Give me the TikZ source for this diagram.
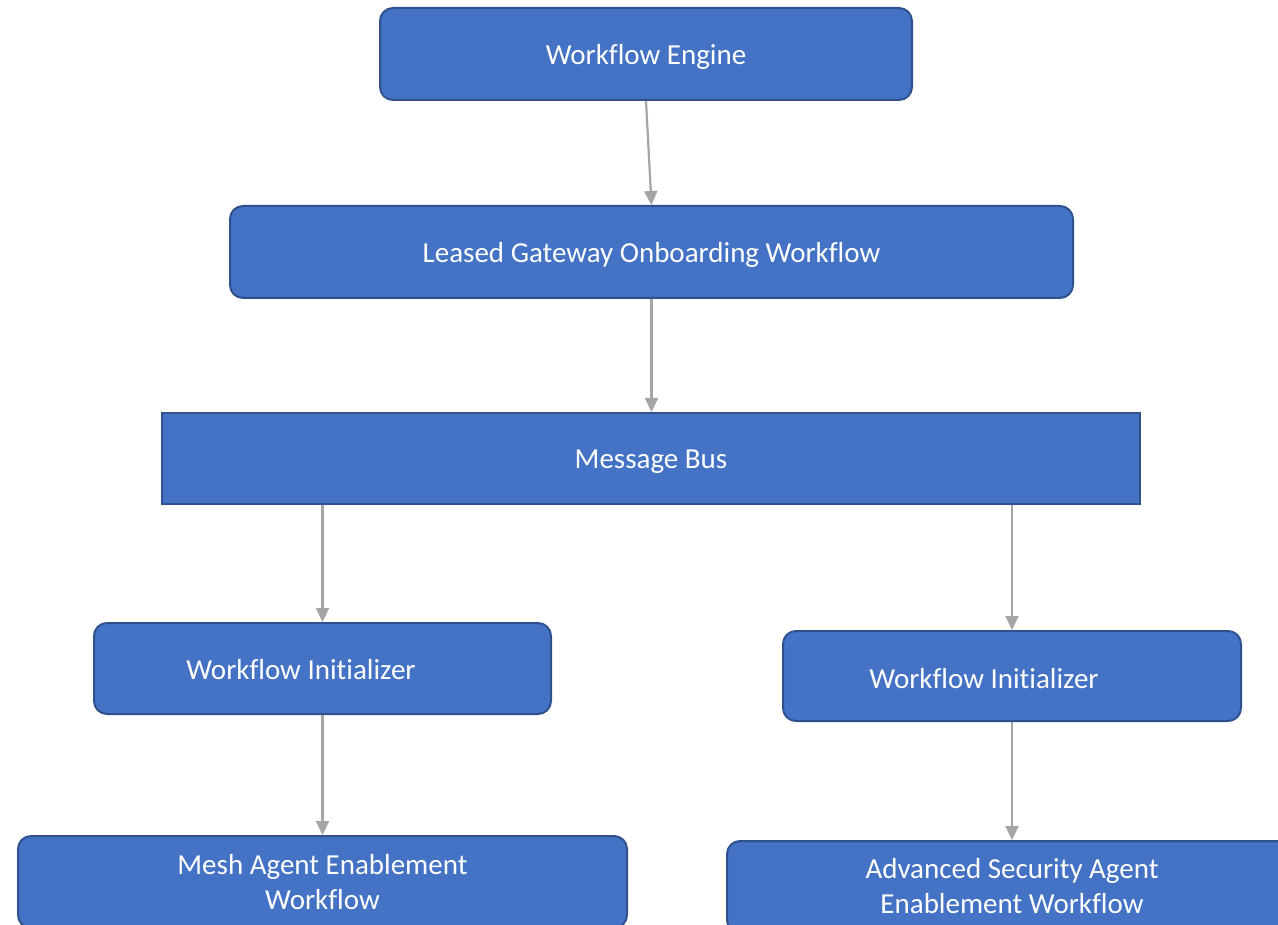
\documentclass[tikz,border=0pt]{standalone}
\usepackage{fontspec}
\setmainfont{Carlito}[Ligatures=NoCommon]
\usetikzlibrary{arrows.meta}
\definecolor{boxfill}{HTML}{4472C4}
\definecolor{boxedge}{HTML}{2F528F}
\definecolor{linkgray}{HTML}{A5A5A5}
\tikzset{
  flowbox/.style={draw=boxedge, fill=boxfill, line width=2pt, rounded corners=13pt, inner sep=0pt},
  busbox/.style={flowbox, rounded corners=0pt},
  boxlabel/.style={text=white, font=\fontsize{29}{35}\selectfont, align=center, inner sep=0pt},
  link/.style={draw=linkgray, line width=2.2pt, -{Triangle[width=13pt,length=14pt]}}
}
\begin{document}
\begin{tikzpicture}[x=1pt,y=-1pt]
\useasboundingbox (0,0) rectangle (1278,925);
\clip (0,0) rectangle (1278,925);
% boxes
\node[flowbox, minimum width=532pt, minimum height=92pt] (we) at (646,54) {};
\node[boxlabel] (wet) at (646,57) {Workflow Engine};
\node[flowbox, minimum width=843pt, minimum height=92pt] (lg) at (651.5,252) {};
\node[boxlabel] (lgt) at (651.5,255) {Leased Gateway Onboarding Workflow};
\node[busbox, minimum width=978pt, minimum height=91pt] (mb) at (651,458.5) {};
\node[boxlabel] (mbt) at (651,462) {Message Bus};
\node[flowbox, minimum width=457pt, minimum height=91pt] (wi1) at (322.5,668.5) {};
\node[boxlabel] (wi1t) at (301,670) {Workflow Initializer};
\node[flowbox, minimum width=458pt, minimum height=90pt] (wi2) at (1012,676) {};
\node[boxlabel] (wi2t) at (984,679) {Workflow Initializer};
\node[flowbox, minimum width=609pt, minimum height=92pt] (mesh) at (322.5,882) {};
\node[boxlabel] (mesht) at (322.5,882) {Mesh Agent Enablement\\Workflow};
\node[flowbox, minimum width=570pt, minimum height=92pt] (adv) at (1012,887) {};
\node[boxlabel] (advt) at (1012,886) {Advanced Security Agent\\Enablement Workflow};
% connectors
\draw[link] (we.south) -- (lg.north);
\draw[link] (lg.south) -- (lg.south |- mb.north);
\draw[link] (mb.south -| wi1.north) -- (wi1.north);
\draw[link] (mb.south -| wi2.north) -- (wi2.north);
\draw[link] (wi1.south) -- (mesh.north);
\draw[link] (wi2.south) -- (adv.north);
\end{tikzpicture}
\end{document}
